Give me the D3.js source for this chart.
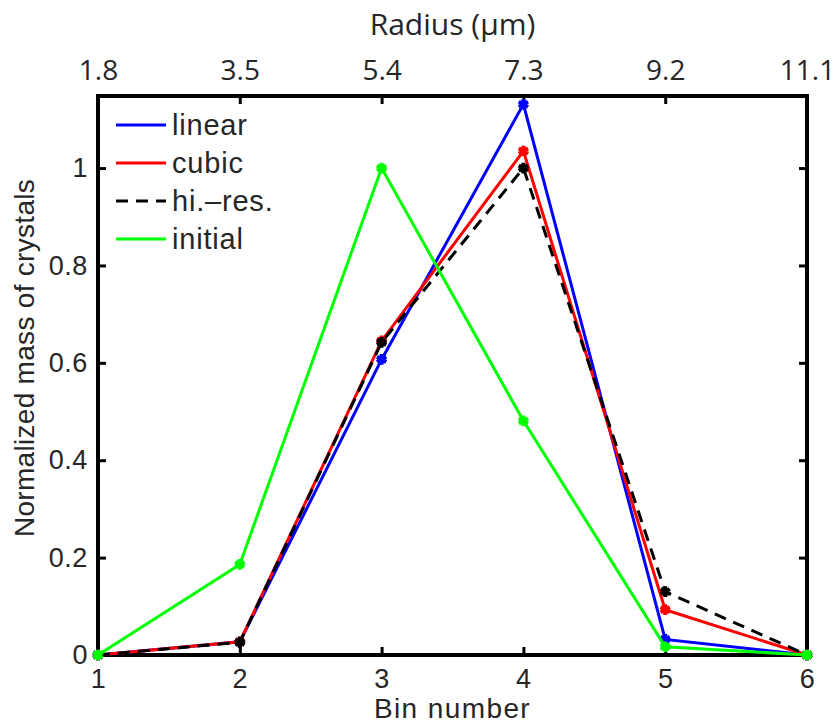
<!DOCTYPE html>
<html>
<head>
<meta charset="utf-8">
<script src="https://cdn.jsdelivr.net/npm/d3@7"></script>
<style>
  body { margin: 0; background: #fff; }
  svg text { fill: #262626; }
</style>
</head>
<body>
<svg width="838" height="724"></svg>
<script>
// bins and the matching radius labels on the top axis
var bins = [1, 2, 3, 4, 5, 6];
var radiusLabels = ["1.8", "3.5", "5.4", "7.3", "9.2", "11.1"];
var yTicks = [0, 0.2, 0.4, 0.6, 0.8, 1];

// series values
var linear = [0, 0.027, 0.607, 1.131, 0.032, 0];
var cubic = [0, 0.027, 0.645, 1.035, 0.093, 0];
var hires = [0, 0.026, 0.642, 1.0, 0.130, 0];
var initial = [0, 0.186, 1.0, 0.481, 0.017, 0];

var seriesNames = ["linear", "cubic", "hi.\u2013res.", "initial"];
var seriesData = [linear, cubic, hires, initial];
var seriesColors = ["#0000ff", "#ff0000", "#000000", "#00ff00"];
var seriesDash = [null, null, "12,8", null];

var margin = {top: 96, right: 31, bottom: 69, left: 98},
    width = 838 - margin.left - margin.right,
    height = 724 - margin.top - margin.bottom;

var svg = d3.select("svg").append("g")
    .attr("transform", "translate(" + margin.left + "," + margin.top + ")");

var x = d3.scaleLinear().domain([1, 6]).range([0, width]);
var y = d3.scaleLinear().domain([0, 1.148]).range([height, 0]);

var helv = "'Liberation Sans', Arial, sans-serif";
var myriad = "'Open Sans', 'Noto Sans', sans-serif";

//axes: ticks pointing inward, like the original
var tickLen = 8;
var bottomAxis = d3.axisBottom(x).tickValues(bins).tickSize(-tickLen).tickPadding(14).tickFormat(d3.format("d"));
var topAxis = d3.axisTop(x).tickValues(bins).tickSize(-tickLen).tickPadding(16)
    .tickFormat(function (d, i) { return radiusLabels[i]; });
var leftAxis = d3.axisLeft(y).tickValues(yTicks).tickSize(-tickLen).tickPadding(10)
    .tickFormat(function (d) { return d === 0 ? "0" : d3.format("")(d); });
var rightAxis = d3.axisRight(y).tickValues(yTicks).tickSize(-tickLen).tickFormat("");

function styleAxis(g, font, size, spacing) {
    g.select(".domain").remove();
    g.selectAll(".tick line").attr("stroke", "#000").attr("stroke-width", 3);
    g.selectAll(".tick text").style("font-family", font).style("font-size", size + "px")
        .style("letter-spacing", spacing + "px");
}

svg.append("g").attr("transform", "translate(0," + height + ")").call(bottomAxis)
    .call(styleAxis, helv, 27, 0.6);
svg.append("g").call(topAxis).call(styleAxis, myriad, 28, 0);
svg.append("g").call(leftAxis).call(styleAxis, helv, 27, 0.6);
svg.append("g").attr("transform", "translate(" + width + ",0)").call(rightAxis)
    .call(styleAxis, helv, 27, 0);

//box
svg.append("rect")
    .attr("x", 0).attr("y", 0)
    .attr("width", width).attr("height", height)
    .attr("fill", "none").attr("stroke", "#000").attr("stroke-width", 4);

//lines
var line = d3.line()
    .x(function (d, i) { return x(bins[i]); })
    .y(function (d) { return y(d); });

var marker = d3.symbol().type(d3.symbolAsterisk).size(80);

seriesData.forEach(function (vals, k) {
    svg.append("path")
        .datum(vals)
        .attr("d", line)
        .attr("fill", "none")
        .attr("stroke", seriesColors[k])
        .attr("stroke-width", 3)
        .attr("stroke-dasharray", seriesDash[k]);
    svg.append("g").selectAll("path")
        .data(vals)
        .enter().append("path")
        .attr("d", marker)
        .attr("transform", function (d, i) { return "translate(" + x(bins[i]) + "," + y(d) + ")"; })
        .attr("fill", "none")
        .attr("stroke", seriesColors[k])
        .attr("stroke-width", 4);
});

//legend
var legend = svg.append("g").attr("transform", "translate(18,29)");
seriesNames.forEach(function (name, k) {
    var row = legend.append("g").attr("transform", "translate(0," + (k * 38) + ")");
    row.append("line")
        .attr("x1", 0).attr("x2", 50).attr("y1", 0).attr("y2", 0)
        .attr("stroke", seriesColors[k])
        .attr("stroke-width", 3)
        .attr("stroke-dasharray", seriesDash[k]);
    row.append("text")
        .attr("x", 56).attr("y", 10)
        .style("font-family", helv).style("font-size", "29px")
        .style("letter-spacing", "0.8px")
        .text(name);
});

//axis titles
var root = d3.select("svg");
root.append("text")
    .attr("x", margin.left + width / 2).attr("y", 718)
    .attr("text-anchor", "middle")
    .style("font-family", helv).style("font-size", "28px").style("letter-spacing", "1.4px")
    .text("Bin number");
root.append("text")
    .attr("x", margin.left + width / 2).attr("y", 35)
    .attr("text-anchor", "middle")
    .style("font-family", myriad).style("font-size", "30px")
    .text("Radius (\u00b5m)");
root.append("text")
    .attr("transform", "translate(34,358) rotate(-90)")
    .attr("text-anchor", "middle")
    .style("font-family", helv).style("font-size", "28px").style("letter-spacing", "0.3px")
    .text("Normalized mass of crystals");
</script>
</body>
</html>
